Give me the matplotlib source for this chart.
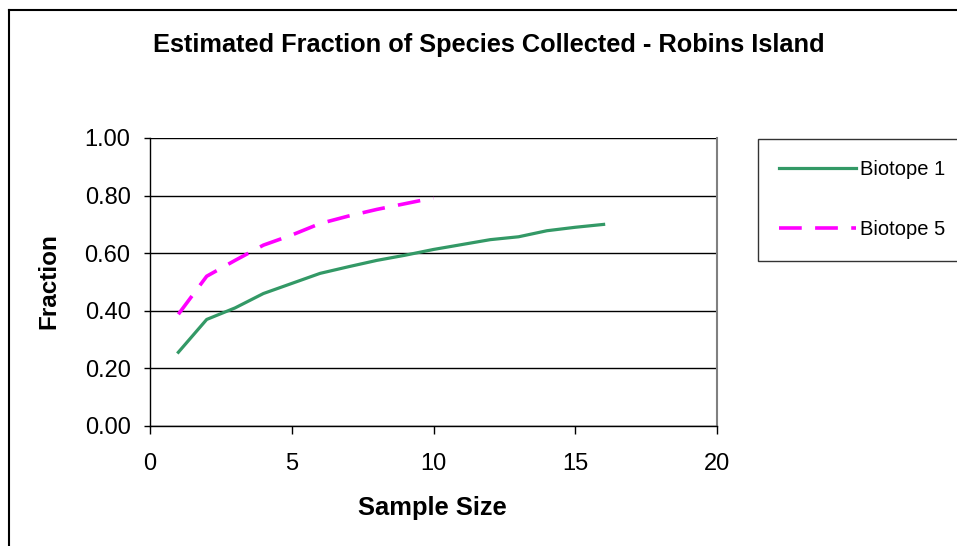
import matplotlib.pyplot as plt
from matplotlib.lines import Line2D
from matplotlib.ticker import FormatStrFormatter

plt.rcParams['font.family'] = ['Liberation Sans', 'DejaVu Sans']

# Data
sample_size_1 = [1, 2, 3, 4, 5, 6, 7, 8, 9, 10, 11, 12, 13, 14, 15, 16]
biotope_1 = [0.256, 0.37, 0.41, 0.46, 0.495, 0.53, 0.553, 0.575, 0.593, 0.613, 0.63, 0.647, 0.657, 0.678, 0.69, 0.70]

sample_size_5 = [1, 2, 3, 4, 5, 6, 7, 8, 9, 10]
biotope_5 = [0.388, 0.52, 0.575, 0.628, 0.663, 0.703, 0.729, 0.752, 0.772, 0.792]

W, H = 957, 546
fig = plt.figure(figsize=(W / 100, H / 100), dpi=100)
ax = fig.add_axes([150 / W, 1 - 426 / H, 567 / W, 288 / H])

ax.plot(sample_size_1, biotope_1, color='#339966', lw=2.3, label='Biotope 1')
ax.plot(sample_size_5, biotope_5, color='#FF00FF', lw=2.6, dashes=(6.3, 3.7),
        label='Biotope 5')

ax.set_xlim(0, 20)
ax.set_ylim(0, 1.0)
ax.set_xticks([0, 5, 10, 15, 20])
ax.set_yticks([0, 0.2, 0.4, 0.6, 0.8, 1.0])
ax.yaxis.set_major_formatter(FormatStrFormatter('%.2f'))
ax.tick_params(labelsize=17, width=1, direction='out')
ax.tick_params(axis='y', length=4.5, pad=9.5)
ax.tick_params(axis='x', length=5.8, pad=13.5)
ax.grid(axis='y', color='black', lw=1)
ax.set_axisbelow(True)

ax.spines['top'].set_visible(False)
ax.spines['right'].set_color('#808080')
ax.spines['right'].set_linewidth(1.5)
ax.spines['left'].set_linewidth(1)
ax.spines['bottom'].set_linewidth(1)

# titles and axis labels
fig.text(489 / W, 1 - 52.3 / H, 'Estimated Fraction of Species Collected - Robins Island',
         ha='center', va='baseline', fontsize=18.3, fontweight='bold')
fig.text(432.5 / W, 1 - 515 / H, 'Sample Size', ha='center', va='baseline',
         fontsize=18.4, fontweight='bold')
fig.text(48.5 / W, 1 - 281 / H, 'Fraction', ha='center', va='center', rotation=90,
         fontsize=17.5, fontweight='bold')

leg = fig.legend(loc='upper left', bbox_to_anchor=(758 / W, 1 - 139 / H),
                 fontsize=14.5, frameon=True, fancybox=False, edgecolor='black',
                 handlelength=3.8, handletextpad=0.2, labelspacing=2.05,
                 borderpad=1.05, borderaxespad=0)
leg.get_frame().set_linewidth(1)

# outer chart border
fig.add_artist(Line2D([9 / W, 1], [1 - 10 / H, 1 - 10 / H], color='black', lw=1.5))
fig.add_artist(Line2D([9 / W, 9 / W], [0, 1 - 10 / H], color='black', lw=1.5))

fig.savefig('out.png', dpi=100)
